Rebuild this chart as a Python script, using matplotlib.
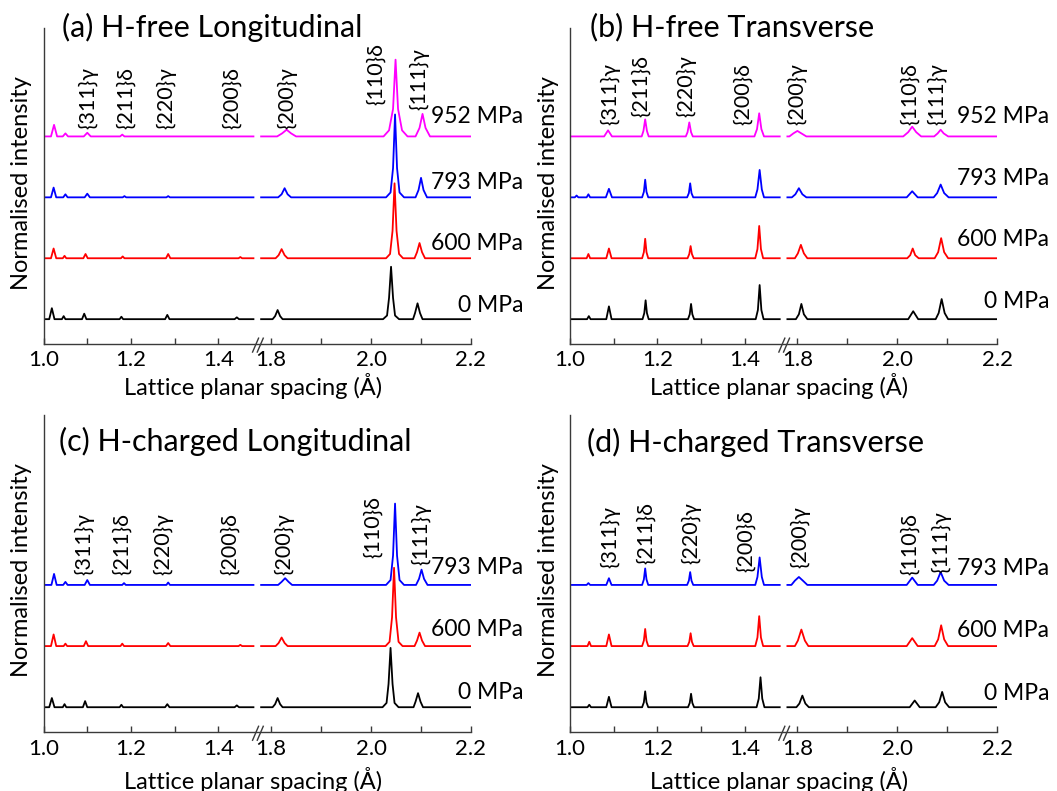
import numpy as np
import matplotlib
matplotlib.use("Agg")
import matplotlib.pyplot as plt
from matplotlib.ticker import FixedLocator, FormatStrFormatter

plt.rcParams['font.family'] = ['Lato', 'DejaVu Sans']

NAN = float('nan')

# ---------------- data: (d-spacing in Angstrom, normalised intensity) -------------
# Panel (a) H-free Longitudinal
A_0 = [(1.0, 0), (1.013, 0), (1.019, 0.18), (1.025, 0), (1.042, 0), (1.046, 0.05), (1.050, 0),
       (1.088, 0), (1.093, 0.09), (1.098, 0), (1.174, 0), (1.178, 0.04), (1.182, 0),
       (1.278, 0), (1.283, 0.07), (1.288, 0), (1.437, 0), (1.442, 0.03), (1.447, 0), (1.48, 0),
       (NAN, NAN),
       (1.78, 0), (1.803, 0), (1.808, 0.05), (1.813, 0.15), (1.818, 0.05), (1.823, 0),
       (2.024, 0), (2.032, 0.06), (2.036, 0.35), (2.040, 0.86), (2.044, 0.35), (2.048, 0.06), (2.056, 0),
       (2.084, 0), (2.088, 0.10), (2.093, 0.26), (2.098, 0.10), (2.103, 0), (2.2, 0)]
A_600 = [(1.0, 0), (1.017, 0), (1.023, 0.16), (1.029, 0), (1.044, 0), (1.048, 0.04), (1.052, 0),
         (1.091, 0), (1.096, 0.07), (1.101, 0), (1.177, 0), (1.181, 0.03), (1.185, 0),
         (1.280, 0), (1.285, 0.07), (1.290, 0), (1.446, 0), (1.450, 0.02), (1.454, 0), (1.48, 0),
         (NAN, NAN),
         (1.78, 0), (1.809, 0), (1.815, 0.05), (1.821, 0.15), (1.827, 0.05), (1.833, 0),
         (2.030, 0), (2.038, 0.07), (2.043, 0.45), (2.047, 1.23), (2.051, 0.45), (2.056, 0.07), (2.064, 0),
         (2.087, 0), (2.092, 0.10), (2.097, 0.25), (2.102, 0.10), (2.108, 0), (2.2, 0)]
A_793 = [(1.0, 0), (1.017, 0), (1.023, 0.16), (1.029, 0), (1.045, 0), (1.050, 0.05), (1.055, 0),
         (1.094, 0), (1.100, 0.06), (1.106, 0), (1.181, 0), (1.185, 0.02), (1.189, 0),
         (1.281, 0), (1.285, 0.02), (1.289, 0), (1.48, 0),
         (NAN, NAN),
         (1.78, 0), (1.814, 0), (1.821, 0.05), (1.827, 0.15), (1.833, 0.05), (1.840, 0),
         (2.030, 0), (2.039, 0.08), (2.044, 0.48), (2.048, 1.36), (2.052, 0.48), (2.057, 0.08), (2.066, 0),
         (2.089, 0), (2.095, 0.12), (2.100, 0.32), (2.105, 0.12), (2.112, 0), (2.2, 0)]
A_952 = [(1.0, 0), (1.017, 0), (1.024, 0.19), (1.031, 0), (1.044, 0), (1.050, 0.05), (1.056, 0),
         (1.092, 0), (1.100, 0.06), (1.108, 0), (1.175, 0), (1.180, 0.03), (1.185, 0), (1.48, 0),
         (NAN, NAN),
         (1.78, 0), (1.812, 0), (1.822, 0.05), (1.831, 0.11), (1.840, 0.05), (1.850, 0),
         (2.025, 0), (2.036, 0.10), (2.044, 0.45), (2.049, 1.26), (2.054, 0.45), (2.062, 0.10), (2.073, 0),
         (2.089, 0), (2.097, 0.14), (2.103, 0.37), (2.109, 0.14), (2.118, 0), (2.2, 0)]

# Panel (b) H-free Transverse
B_0 = [(1.0, 0), (1.039, 0), (1.043, 0.05), (1.047, 0), (1.083, 0), (1.089, 0.21), (1.095, 0),
       (1.166, 0), (1.170, 0.10), (1.173, 0.31), (1.176, 0.10), (1.180, 0),
       (1.270, 0), (1.274, 0.08), (1.277, 0.25), (1.280, 0.08), (1.284, 0),
       (1.425, 0), (1.430, 0.15), (1.434, 0.56), (1.438, 0.15), (1.443, 0), (1.48, 0),
       (NAN, NAN),
       (1.78, 0), (1.797, 0), (1.803, 0.08), (1.808, 0.25), (1.813, 0.08), (1.820, 0),
       (2.022, 0), (2.032, 0.13), (2.042, 0),
       (2.077, 0), (2.083, 0.10), (2.089, 0.33), (2.095, 0.10), (2.102, 0), (2.2, 0)]
B_600 = [(1.0, 0), (1.038, 0), (1.042, 0.07), (1.046, 0), (1.083, 0), (1.089, 0.16), (1.095, 0),
         (1.165, 0), (1.169, 0.10), (1.172, 0.32), (1.175, 0.10), (1.179, 0),
         (1.269, 0), (1.273, 0.07), (1.276, 0.20), (1.279, 0.07), (1.283, 0),
         (1.424, 0), (1.429, 0.15), (1.433, 0.53), (1.437, 0.15), (1.442, 0), (1.48, 0),
         (NAN, NAN),
         (1.78, 0), (1.795, 0), (1.801, 0.08), (1.807, 0.22), (1.813, 0.08), (1.820, 0),
         (2.020, 0), (2.026, 0.05), (2.031, 0.16), (2.036, 0.05), (2.043, 0),
         (2.075, 0), (2.082, 0.10), (2.088, 0.33), (2.094, 0.10), (2.102, 0), (2.2, 0)]
B_793 = [(1.0, 0), (1.011, 0), (1.015, 0.03), (1.019, 0), (1.038, 0), (1.042, 0.05), (1.046, 0),
         (1.082, 0), (1.089, 0.14), (1.096, 0),
         (1.165, 0), (1.169, 0.09), (1.172, 0.29), (1.175, 0.09), (1.179, 0),
         (1.268, 0), (1.272, 0.07), (1.275, 0.23), (1.278, 0.07), (1.282, 0),
         (1.424, 0), (1.429, 0.13), (1.434, 0.45), (1.439, 0.13), (1.444, 0), (1.48, 0),
         (NAN, NAN),
         (1.78, 0), (1.789, 0), (1.796, 0.05), (1.803, 0.15), (1.810, 0.05), (1.818, 0),
         (2.019, 0), (2.030, 0.10), (2.041, 0),
         (2.073, 0), (2.080, 0.07), (2.087, 0.21), (2.094, 0.07), (2.103, 0), (2.2, 0)]
B_952 = [(1.0, 0), (1.078, 0), (1.087, 0.10), (1.096, 0),
         (1.164, 0), (1.168, 0.09), (1.172, 0.28), (1.176, 0.09), (1.180, 0),
         (1.265, 0), (1.269, 0.07), (1.273, 0.23), (1.277, 0.07), (1.281, 0),
         (1.422, 0), (1.428, 0.12), (1.433, 0.38), (1.438, 0.12), (1.444, 0), (1.48, 0),
         (NAN, NAN),
         (1.78, 0), (1.784, 0), (1.792, 0.05), (1.800, 0.09), (1.808, 0.05), (1.818, 0),
         (2.012, 0), (2.022, 0.07), (2.030, 0.16), (2.038, 0.07), (2.048, 0),
         (2.074, 0), (2.081, 0.05), (2.087, 0.11), (2.093, 0.05), (2.102, 0), (2.2, 0)]

# Panel (c) H-charged Longitudinal
C_0 = [(1.0, 0), (1.013, 0), (1.019, 0.15), (1.025, 0), (1.044, 0), (1.048, 0.05), (1.052, 0),
       (1.090, 0), (1.095, 0.10), (1.100, 0), (1.174, 0), (1.178, 0.04), (1.182, 0),
       (1.278, 0), (1.283, 0.05), (1.288, 0), (1.437, 0), (1.442, 0.03), (1.447, 0), (1.48, 0),
       (NAN, NAN),
       (1.78, 0), (1.803, 0), (1.808, 0.05), (1.813, 0.15), (1.818, 0.05), (1.823, 0),
       (2.023, 0), (2.031, 0.07), (2.035, 0.38), (2.039, 0.97), (2.043, 0.38), (2.047, 0.07), (2.055, 0),
       (2.085, 0), (2.089, 0.09), (2.094, 0.23), (2.099, 0.09), (2.104, 0), (2.2, 0)]
C_600 = [(1.0, 0), (1.017, 0), (1.023, 0.19), (1.029, 0), (1.046, 0), (1.050, 0.04), (1.054, 0),
         (1.092, 0), (1.097, 0.08), (1.102, 0), (1.176, 0), (1.180, 0.04), (1.184, 0),
         (1.280, 0), (1.285, 0.05), (1.290, 0), (1.446, 0), (1.450, 0.02), (1.454, 0), (1.48, 0),
         (NAN, NAN),
         (1.78, 0), (1.809, 0), (1.815, 0.05), (1.821, 0.14), (1.827, 0.05), (1.833, 0),
         (2.029, 0), (2.037, 0.07), (2.042, 0.47), (2.046, 1.28), (2.050, 0.47), (2.055, 0.07), (2.063, 0),
         (2.087, 0), (2.092, 0.09), (2.097, 0.22), (2.102, 0.09), (2.108, 0), (2.2, 0)]
C_793 = [(1.0, 0), (1.018, 0), (1.024, 0.18), (1.030, 0), (1.045, 0), (1.050, 0.05), (1.055, 0),
         (1.094, 0), (1.100, 0.08), (1.106, 0), (1.180, 0), (1.184, 0.03), (1.188, 0),
         (1.281, 0), (1.285, 0.04), (1.289, 0), (1.48, 0),
         (NAN, NAN),
         (1.78, 0), (1.814, 0), (1.821, 0.05), (1.828, 0.11), (1.835, 0.05), (1.842, 0),
         (2.030, 0), (2.039, 0.08), (2.044, 0.48), (2.048, 1.33), (2.052, 0.48), (2.057, 0.08), (2.066, 0),
         (2.090, 0), (2.096, 0.10), (2.101, 0.25), (2.106, 0.10), (2.113, 0), (2.2, 0)]

# Panel (d) H-charged Transverse
D_0 = [(1.0, 0), (1.040, 0), (1.044, 0.04), (1.048, 0), (1.083, 0), (1.089, 0.17), (1.095, 0),
       (1.165, 0), (1.169, 0.08), (1.172, 0.26), (1.175, 0.08), (1.179, 0),
       (1.270, 0), (1.274, 0.07), (1.277, 0.22), (1.280, 0.07), (1.284, 0),
       (1.427, 0), (1.432, 0.14), (1.436, 0.49), (1.440, 0.14), (1.445, 0), (1.48, 0),
       (NAN, NAN),
       (1.78, 0), (1.798, 0), (1.804, 0.06), (1.810, 0.19), (1.816, 0.06), (1.823, 0),
       (2.025, 0), (2.035, 0.11), (2.045, 0),
       (2.077, 0), (2.084, 0.08), (2.090, 0.25), (2.096, 0.08), (2.104, 0), (2.2, 0)]
D_600 = [(1.0, 0), (1.040, 0), (1.044, 0.07), (1.048, 0), (1.083, 0), (1.089, 0.19), (1.095, 0),
         (1.165, 0), (1.169, 0.09), (1.172, 0.28), (1.175, 0.09), (1.179, 0),
         (1.269, 0), (1.273, 0.07), (1.276, 0.21), (1.279, 0.07), (1.283, 0),
         (1.424, 0), (1.429, 0.14), (1.433, 0.49), (1.437, 0.14), (1.442, 0), (1.48, 0),
         (NAN, NAN),
         (1.78, 0), (1.795, 0), (1.801, 0.09), (1.808, 0.27), (1.815, 0.09), (1.822, 0),
         (2.019, 0), (2.030, 0.13), (2.041, 0),
         (2.075, 0), (2.082, 0.11), (2.088, 0.34), (2.094, 0.11), (2.102, 0), (2.2, 0)]
D_793 = [(1.0, 0), (1.038, 0), (1.042, 0.03), (1.046, 0), (1.083, 0), (1.089, 0.11), (1.095, 0),
         (1.165, 0), (1.169, 0.09), (1.172, 0.27), (1.175, 0.09), (1.179, 0),
         (1.268, 0), (1.272, 0.07), (1.275, 0.21), (1.278, 0.07), (1.282, 0),
         (1.424, 0), (1.429, 0.13), (1.434, 0.45), (1.439, 0.13), (1.444, 0), (1.48, 0),
         (NAN, NAN),
         (1.78, 0), (1.788, 0), (1.795, 0.07), (1.803, 0.13), (1.811, 0.07), (1.820, 0),
         (2.019, 0), (2.030, 0.12), (2.041, 0),
         (2.073, 0), (2.080, 0.07), (2.087, 0.21), (2.094, 0.07), (2.103, 0), (2.2, 0)]

# Peak label texts and positions (d, y-offset units)
peak_labels = ['{311}γ', '{211}δ', '{220}γ', '{200}δ', '{200}γ', '{110}δ', '{111}γ']
A_lab_x = [1.103, 1.189, 1.280, 1.431, 1.833, 2.010, 2.097]
A_lab_y = [3.13, 3.13, 3.13, 3.13, 3.13, 3.51, 3.43]
B_lab_x = [1.091, 1.163, 1.265, 1.396, 1.800, 2.025, 2.081]
B_lab_y = [3.19, 3.32, 3.32, 3.19, 3.19, 3.19, 3.19]
C_lab_x = [1.093, 1.180, 1.273, 1.427, 1.827, 2.003, 2.101]
C_lab_y = [2.17, 2.17, 2.17, 2.17, 2.17, 2.44, 2.33]
D_lab_x = [1.093, 1.174, 1.278, 1.402, 1.805, 2.025, 2.089]
D_lab_y = [2.27, 2.35, 2.35, 2.21, 2.27, 2.16, 2.19]

stress_labels_4 = ['0 MPa', '600 MPa', '793 MPa', '952 MPa']
stress_labels_3 = ['0 MPa', '600 MPa', '793 MPa']
A_stress_y = [0.23, 1.25, 2.25, 3.32]
B_stress_y = [0.29, 1.30, 2.31, 3.32]
C_stress_y = [0.24, 1.27, 2.28]
D_stress_y = [0.23, 1.26, 2.27]

titles = ['(a) H-free Longitudinal', '(b) H-free Transverse',
          '(c) H-charged Longitudinal', '(d) H-charged Transverse']

major_ticks = [1.0, 1.2, 1.4, 1.8, 2.0, 2.2]
minor_ticks = [1.1, 1.3, 1.9, 2.1]
trace_colors = ['#000000', '#ff0000', '#0000ff', '#ff00ff']

# ---------------- broken-axis scale (piecewise linear) ----------------
K1 = 1.023
G1 = 0.48 * K1
G2 = 0.509
K2 = (1.0 - G2) / 0.42


def fwd(x):
    x = np.asarray(x, dtype=float)
    return np.where(x <= 1.48, (x - 1.0) * K1,
                    np.where(x >= 1.78, G2 + (x - 1.78) * K2,
                             G1 + (x - 1.48) * (G2 - G1) / 0.30))


def inv(y):
    y = np.asarray(y, dtype=float)
    return np.where(y <= G1, 1.0 + y / K1,
                    np.where(y >= G2, 1.78 + (y - G2) / K2,
                             1.48 + (y - G1) * 0.30 / (G2 - G1)))


fig = plt.figure(figsize=(10.57, 7.91), dpi=100)
positions = [[0.0412, 0.5657, 0.4044, 0.3989],
             [0.5393, 0.5657, 0.4040, 0.3989],
             [0.0412, 0.0750, 0.4044, 0.4004],
             [0.5393, 0.0750, 0.4040, 0.4004]]

panels = [
    ([A_0, A_600, A_793, A_952], A_lab_x, A_lab_y, stress_labels_4, A_stress_y, 1.003, 0.043, -0.092),
    ([B_0, B_600, B_793, B_952], B_lab_x, B_lab_y, stress_labels_4, B_stress_y, 1.003, 0.047, -0.092),
    ([C_0, C_600, C_793], C_lab_x, C_lab_y, stress_labels_3, C_stress_y, 0.915, 0.036, -0.112),
    ([D_0, D_600, D_793], D_lab_x, D_lab_y, stress_labels_3, D_stress_y, 0.914, 0.040, -0.112),
]

spine_col = '#3a3a3a'
for i, (traces, lx, ly, slabels, sy, ty, tx, xly) in enumerate(panels):
    ax = fig.add_axes(positions[i])
    ax.set_xscale('function', functions=(fwd, inv))
    # draw upper traces first so lower ones sit on top
    for k in reversed(range(len(traces))):
        d = [p[0] for p in traces[k]]
        inten = [p[1] + k if p[1] == p[1] else NAN for p in traces[k]]
        ax.plot(d, inten, color=trace_colors[k], lw=1.3, solid_joinstyle='round')
    ax.set_xlim(1.0, 2.2)
    ax.set_ylim(-0.40, 4.78)
    ax.xaxis.set_major_locator(FixedLocator(major_ticks))
    ax.xaxis.set_minor_locator(FixedLocator(minor_ticks))
    ax.xaxis.set_major_formatter(FormatStrFormatter('%.1f'))
    ax.tick_params(axis='x', which='both', direction='in', length=4, width=1,
                   color=spine_col, labelsize=16, pad=5)
    ax.set_yticks([])
    for s in ['top', 'right']:
        ax.spines[s].set_visible(False)
    for s in ['left', 'bottom']:
        ax.spines[s].set_color(spine_col)
        ax.spines[s].set_linewidth(1.0)
    # break marks
    for off in (0.0, 0.011):
        ax.plot([0.489 + off, 0.503 + off], [-0.027, 0.017], transform=ax.transAxes,
                color=spine_col, lw=1.0, clip_on=False)
    # peak labels
    for t, x, y in zip(peak_labels, lx, ly):
        ax.text(x, y, t, rotation=90, ha='center', va='bottom', fontsize=15.5)
    # stress labels
    for t, y in zip(slabels, sy):
        ax.text(1.122, y, t, transform=ax.get_yaxis_transform(), ha='right', va='center',
                fontsize=16.5)
    ax.text(tx, ty, titles[i], transform=ax.transAxes, ha='left', va='center', fontsize=22)
    ax.set_xlabel('Lattice planar spacing (Å)', fontsize=17)
    ax.xaxis.set_label_coords(0.49, xly)
    ax.set_ylabel('Normalised intensity', fontsize=17)
    ax.yaxis.set_label_coords(-0.027, 0.51)

fig.savefig('out.png', dpi=100)
